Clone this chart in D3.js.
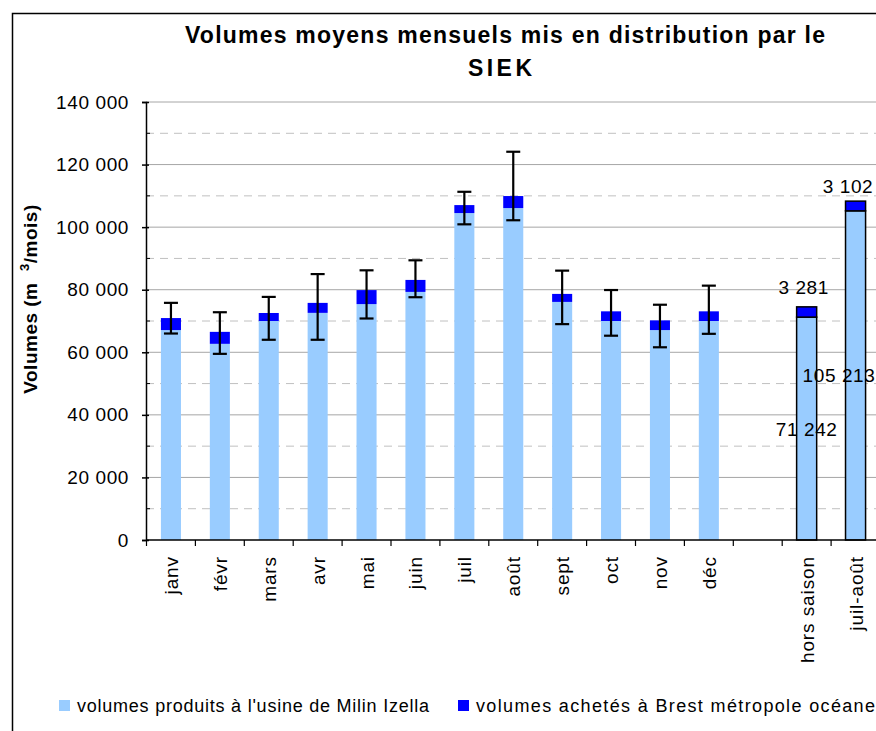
<!DOCTYPE html>
<html>
<head>
<meta charset="utf-8">
<script src="https://cdn.jsdelivr.net/npm/d3@7"></script>
<style>
  body { margin: 0; background: #fff; }
  svg { display: block; font-family: "Liberation Sans", Arial, sans-serif; }
</style>
</head>
<body>
<div class="chart"></div>
<script>
// categories (the empty one is the gap before the summary bars)
const categories = ["janv", "févr", "mars", "avr", "mai", "juin", "juil", "août", "sept", "oct", "nov", "déc", "", "hors saison", "juil-août"]

// monthly values (m3/month)
const produced = [67100, 62700, 70000, 72600, 75400, 79300, 104500, 106100, 76100, 70000, 67100, 70000]
const purchased = [3840, 3830, 2560, 3190, 4480, 3830, 2550, 3840, 2560, 3090, 3100, 3090]
const errLow = [66000, 59500, 64000, 64000, 70800, 77600, 100900, 102200, 69000, 65300, 61600, 65900]
const errHigh = [75800, 72800, 77700, 85000, 86200, 89400, 111300, 124100, 86100, 79900, 75200, 81300]

// summary bars (hors saison, juil-août)
const summaryIndex = [13, 14]
const summaryProduced = [71242, 105213]
const summaryPurchased = [3281, 3102]

const yTicks = [0, 20000, 40000, 60000, 80000, 100000, 120000, 140000]
const seriesNames = ["volumes produits à l'usine de Milin Izella", "volumes achetés à Brest métropole océane"]

const width = 876
const height = 731
const lightBlue = "#99ccff"
const darkBlue = "#0000ff"

const fmt = function(v) {
  return d3.format(",")(v).replace(/,/g, " ")
}

const svg = d3.select(".chart").append("svg")
  .attr("width", width)
  .attr("height", height)

// chart frame (runs off the right and bottom edges)
svg.append("rect")
  .attr("x", 12.5)
  .attr("y", 13.5)
  .attr("width", 900)
  .attr("height", 760)
  .attr("fill", "none")
  .attr("stroke", "#000")
  .attr("stroke-width", 1.5)

const y = d3.scaleLinear()
  .domain([0, 140000])
  .range([540, 102])

const x = d3.scaleBand()
  .domain(d3.range(categories.length))
  .range([146.5, 880])

const barW = x.bandwidth() * 0.41
const cx = function(i) { return x(i) + x.bandwidth() / 2 }

// gridlines
const minor = d3.range(10000, 140000, 20000)
svg.append("g").selectAll("line")
  .data(minor)
  .enter().append("line")
  .attr("x1", 146).attr("x2", width)
  .attr("y1", d => y(d)).attr("y2", d => y(d))
  .attr("stroke", "#c0c0c0")
  .attr("stroke-dasharray", "8,6")

svg.append("g").selectAll("line")
  .data(yTicks.slice(1))
  .enter().append("line")
  .attr("x1", 146).attr("x2", width)
  .attr("y1", d => y(d)).attr("y2", d => y(d))
  .attr("stroke", "#a6a6a6")

// monthly bars
const months = d3.range(produced.length)

svg.append("g").selectAll("rect")
  .data(months)
  .enter().append("rect")
  .attr("x", i => cx(i) - barW / 2)
  .attr("width", barW)
  .attr("y", i => y(produced[i]))
  .attr("height", i => y(0) - y(produced[i]))
  .attr("fill", lightBlue)

svg.append("g").selectAll("rect")
  .data(months)
  .enter().append("rect")
  .attr("x", i => cx(i) - barW / 2)
  .attr("width", barW)
  .attr("y", i => y(produced[i] + purchased[i]))
  .attr("height", i => y(produced[i]) - y(produced[i] + purchased[i]))
  .attr("fill", darkBlue)

// error bars
const err = svg.append("g")
  .attr("stroke", "#000")
  .attr("stroke-width", 2.2)

err.selectAll(".stem")
  .data(months)
  .enter().append("line")
  .attr("x1", i => cx(i)).attr("x2", i => cx(i))
  .attr("y1", i => y(errLow[i])).attr("y2", i => y(errHigh[i]))

err.selectAll(".capTop")
  .data(months)
  .enter().append("line")
  .attr("x1", i => cx(i) - 7).attr("x2", i => cx(i) + 7)
  .attr("y1", i => y(errHigh[i])).attr("y2", i => y(errHigh[i]))

err.selectAll(".capBottom")
  .data(months)
  .enter().append("line")
  .attr("x1", i => cx(i) - 7).attr("x2", i => cx(i) + 7)
  .attr("y1", i => y(errLow[i])).attr("y2", i => y(errLow[i]))

// summary bars, with black outline
const sums = svg.append("g").selectAll("g")
  .data([0, 1])
  .enter().append("g")

sums.append("rect")
  .attr("x", k => cx(summaryIndex[k]) - barW / 2)
  .attr("width", barW)
  .attr("y", k => y(summaryProduced[k]))
  .attr("height", k => y(0) - y(summaryProduced[k]))
  .attr("fill", lightBlue)
  .attr("stroke", "#000")
  .attr("stroke-width", 1.5)

sums.append("rect")
  .attr("x", k => cx(summaryIndex[k]) - barW / 2)
  .attr("width", barW)
  .attr("y", k => y(summaryProduced[k] + summaryPurchased[k]))
  .attr("height", k => y(summaryProduced[k]) - y(summaryProduced[k] + summaryPurchased[k]))
  .attr("fill", darkBlue)
  .attr("stroke", "#000")
  .attr("stroke-width", 1.5)

// data labels
sums.append("text")
  .attr("x", k => Math.min(cx(summaryIndex[k]), 839))
  .attr("y", k => y(summaryProduced[k] / 2) + 7)
  .attr("text-anchor", "middle")
  .style("font-size", "19px")
  .style("letter-spacing", "0.6px")
  .attr("fill", "#000")
  .text(k => fmt(summaryProduced[k]))

sums.append("text")
  .attr("x", k => Math.min(cx(summaryIndex[k]) - 3, 848))
  .attr("y", k => Math.max(y(summaryProduced[k] + summaryPurchased[k]) - 13, 193))
  .attr("text-anchor", "middle")
  .style("font-size", "19px")
  .style("letter-spacing", "0.6px")
  .attr("fill", "#000")
  .text(k => fmt(summaryPurchased[k]))

// y axis
const yAxis = svg.append("g")
  .attr("transform", "translate(146,0)")
  .call(d3.axisLeft(y).tickValues(yTicks).tickFormat(fmt).tickSize(4).tickPadding(13))
yAxis.select(".domain").attr("stroke", "#000").attr("stroke-width", 1.5)
yAxis.selectAll(".tick line").attr("stroke", "#000").attr("stroke-width", 1.5)
  .attr("x2", -4).attr("x1", 3)
yAxis.selectAll(".tick text")
  .style("font-size", "19px")
  .style("letter-spacing", "0.6px")
  .style("font-family", "'Liberation Sans', Arial, sans-serif")
  .attr("fill", "#000")

svg.append("g").selectAll("line")
  .data(minor)
  .enter().append("line")
  .attr("x1", 146).attr("x2", 150)
  .attr("y1", d => y(d)).attr("y2", d => y(d))
  .attr("stroke", "#000")

// x axis
svg.append("line")
  .attr("x1", 146).attr("x2", width)
  .attr("y1", y(0)).attr("y2", y(0))
  .attr("stroke", "#000")
  .attr("stroke-width", 1.5)

svg.append("g").selectAll("line")
  .data(d3.range(categories.length))
  .enter().append("line")
  .attr("x1", i => x(i)).attr("x2", i => x(i))
  .attr("y1", y(0)).attr("y2", y(0) + 6)
  .attr("stroke", "#000")
  .attr("stroke-width", 1.2)

svg.append("g").selectAll("text")
  .data(d3.range(categories.length))
  .enter().append("text")
  .attr("transform", i => "translate(" + (cx(i) + 7) + "," + (y(0) + 16) + ") rotate(-90)")
  .attr("text-anchor", "end")
  .style("font-size", "19px")
  .style("letter-spacing", "0.9px")
  .attr("fill", "#000")
  .text(i => categories[i])

// title
const title = svg.append("text")
  .attr("text-anchor", "middle")
  .style("font-size", "23px")
  .style("font-weight", "bold")
  .attr("fill", "#000")
title.append("tspan").attr("x", 505).attr("y", 43)
  .attr("textLength", 640).attr("lengthAdjust", "spacing")
  .text("Volumes moyens mensuels mis en distribution par le")
title.append("tspan").attr("x", 500).attr("y", 76)
  .attr("textLength", 64).attr("lengthAdjust", "spacing")
  .text("SIEK")

// y axis title
const yTitle = svg.append("text")
  .attr("transform", "translate(37,299) rotate(-90)")
  .attr("text-anchor", "middle")
  .style("font-size", "19px")
  .style("font-weight", "bold")
  .style("letter-spacing", "0.5px")
  .attr("fill", "#000")
yTitle.append("tspan").text("Volumes (m\u00a0\u00a0")
yTitle.append("tspan").attr("dy", -8).style("font-size", "13px").text("3")
yTitle.append("tspan").attr("dy", 8).text("/mois)")

// legend
const legend = svg.append("g")
const legendX = [59, 458]
const legendW = [352, 399]
const legendColors = [lightBlue, darkBlue]
legend.selectAll("rect")
  .data(seriesNames)
  .enter().append("rect")
  .attr("x", (d, i) => legendX[i])
  .attr("y", 700)
  .attr("width", 11)
  .attr("height", 11)
  .attr("fill", (d, i) => legendColors[i])

legend.selectAll("text")
  .data(seriesNames)
  .enter().append("text")
  .attr("x", (d, i) => legendX[i] + 18)
  .attr("y", 712)
  .attr("textLength", (d, i) => legendW[i])
  .attr("lengthAdjust", "spacing")
  .style("font-size", "18px")
  .attr("fill", "#000")
  .text(d => d)
</script>
</body>
</html>
